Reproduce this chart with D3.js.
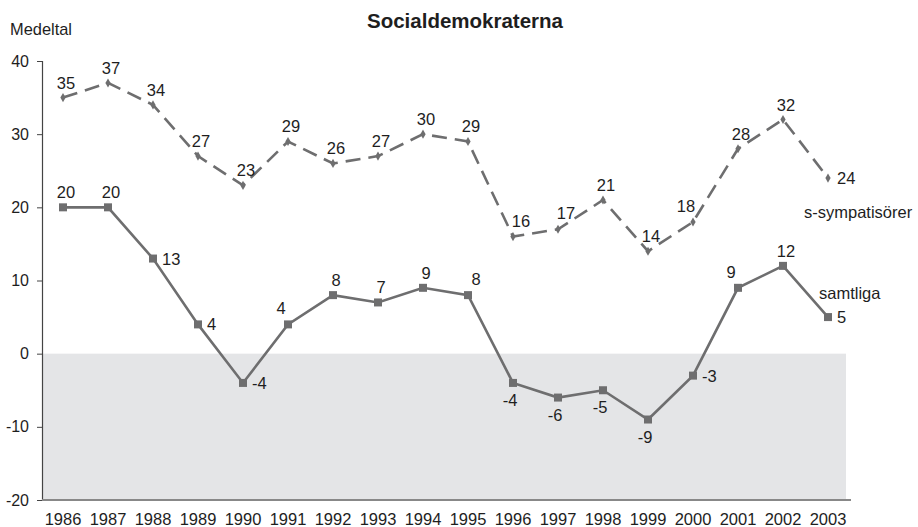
<!DOCTYPE html>
<html lang="sv">
  <head>
    <meta charset="UTF-8" />
    <title>Socialdemokraterna</title>
    <script src="https://d3js.org/d3.v7.min.js"></script>
    <style>
      body {
        margin: 0;
        background: #fff;
        font-family: "Liberation Sans", Arial, sans-serif;
      }
      svg text {
        fill: #1e1e1e;
      }
    </style>
  </head>
  <body>
    <svg width="918" height="527"></svg>
    <script>
      const years = [1986, 1987, 1988, 1989, 1990, 1991, 1992, 1993, 1994,
        1995, 1996, 1997, 1998, 1999, 2000, 2001, 2002, 2003];
      const sympatisorer = [35, 37, 34, 27, 23, 29, 26, 27, 30, 29, 16, 17,
        21, 14, 18, 28, 32, 24];
      const samtliga = [20, 20, 13, 4, -4, 4, 8, 7, 9, 8, -4, -6, -5, -9,
        -3, 9, 12, 5];
      const yTicks = [-20, -10, 0, 10, 20, 30, 40];

      // where each value label sits relative to its point
      const placeSym = { 1996: "ar", 1997: "ar", 2000: "al", 2003: "r" };
      const placeSam = {
        1988: "r", 1989: "r", 1990: "r", 1991: "al", 1995: "ar",
        1996: "b", 1997: "b", 1998: "b", 1999: "b", 2000: "r",
        2001: "al", 2003: "r"
      };

      const svg = d3.select("svg");
      const lineColor = "#6e6e6f";

      const x = d3.scaleLinear().domain([1986, 2003]).range([63, 828]);
      const y = d3.scaleLinear().domain([-20, 40]).range([500, 61]);

      // shaded negative zone
      svg.append("rect")
        .attr("x", 42)
        .attr("y", y(0))
        .attr("width", 846 - 42)
        .attr("height", y(-20) - y(0))
        .attr("fill", "#e4e5e7");

      // y axis
      const yAxis = svg.append("g")
        .attr("transform", "translate(42,0)")
        .call(d3.axisLeft(y).tickValues(yTicks).tickSize(5).tickPadding(8)
          .tickFormat((d) => String(d)));
      yAxis.select(".domain").attr("stroke", "#444").attr("stroke-width", 1.2);
      yAxis.selectAll(".tick line").attr("stroke", "#444");
      yAxis.selectAll(".tick text")
        .attr("font-size", 16)
        .attr("font-family", "Liberation Sans, Arial, sans-serif")
        .style("fill", "#1e1e1e");

      // x axis
      svg.append("line")
        .attr("x1", 42).attr("x2", 851)
        .attr("y1", 500).attr("y2", 500)
        .attr("stroke", "#888").attr("stroke-width", 2);
      svg.append("g")
        .selectAll("text")
        .data(years)
        .join("text")
        .attr("x", (d) => x(d))
        .attr("y", 525)
        .attr("text-anchor", "middle")
        .attr("font-size", 16.5)
        .text((d) => d);

      const line = d3.line()
        .x((d, i) => x(years[i]))
        .y((d) => y(d));

      // s-sympatisörer (dashed)
      svg.append("path")
        .datum(sympatisorer)
        .attr("fill", "none")
        .attr("stroke", lineColor)
        .attr("stroke-width", 2.6)
        .attr("stroke-dasharray", "15,8")
        .attr("d", line);
      svg.append("g")
        .selectAll("path")
        .data(sympatisorer)
        .join("path")
        .attr("d", d3.symbol(d3.symbolDiamond, 24))
        .attr("transform", (d, i) => `translate(${x(years[i])},${y(d)})`)
        .attr("fill", lineColor);

      // samtliga (solid)
      svg.append("path")
        .datum(samtliga)
        .attr("fill", "none")
        .attr("stroke", lineColor)
        .attr("stroke-width", 2.6)
        .attr("d", line);
      svg.append("g")
        .selectAll("rect")
        .data(samtliga)
        .join("rect")
        .attr("x", (d, i) => x(years[i]) - 4)
        .attr("y", (d) => y(d) - 4)
        .attr("width", 8)
        .attr("height", 8)
        .attr("fill", lineColor);

      function offset(p) {
        if (p === "r") return [9, 6, "start"];
        if (p === "ar") return [8, -10, "middle"];
        if (p === "al") return [-7, -10, "middle"];
        if (p === "b") return [-3, 23, "middle"];
        return [3, -9, "middle"];
      }

      function drawLabels(values, place) {
        svg.append("g")
          .selectAll("text")
          .data(values)
          .join("text")
          .each(function (d, i) {
            const [dx, dy, anchor] = offset(place[years[i]]);
            d3.select(this)
              .attr("x", x(years[i]) + dx)
              .attr("y", y(d) + dy)
              .attr("text-anchor", anchor);
          })
          .attr("font-size", 16.5)
          .text((d) => d);
      }
      drawLabels(sympatisorer, placeSym);
      drawLabels(samtliga, placeSam);

      // series names
      svg.append("text")
        .attr("x", 804).attr("y", 218)
        .attr("font-size", 16.5)
        .text("s-sympatisörer");
      svg.append("text")
        .attr("x", 819).attr("y", 299)
        .attr("font-size", 16.5)
        .text("samtliga");

      // titles
      svg.append("text")
        .attr("x", 465).attr("y", 28)
        .attr("text-anchor", "middle")
        .attr("font-size", 20.5)
        .attr("font-weight", "bold")
        .text("Socialdemokraterna");
      svg.append("text")
        .attr("x", 10).attr("y", 35)
        .attr("font-size", 16.4)
        .text("Medeltal");
    </script>
  </body>
</html>
